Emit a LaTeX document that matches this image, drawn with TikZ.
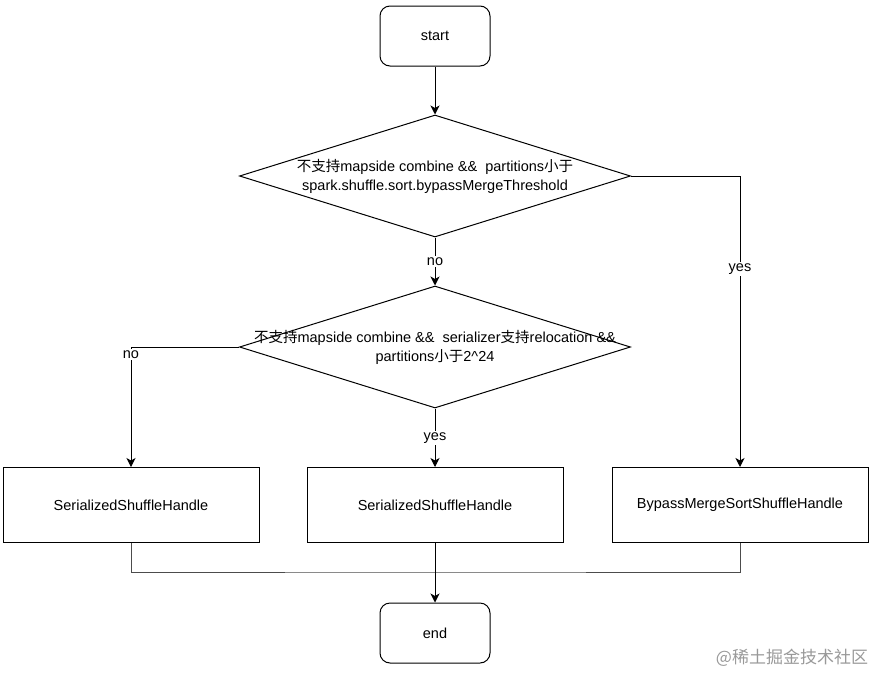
\documentclass[tikz,border=0pt]{standalone}
\usepackage{fontspec}
\setmainfont{Liberation Sans}
\newfontfamily\cjk{Noto Sans CJK SC}
\newcommand{\zh}[1]{{\cjk #1}}
\usetikzlibrary{shapes.geometric,arrows.meta}
\begin{document}
\begin{tikzpicture}[x=1pt,y=-1pt,
		font=\fontsize{14.5}{19}\selectfont,
		line width=1pt,
		terminal/.style={draw, rounded corners=10pt, minimum width=110pt, minimum height=60pt},
		handle/.style={draw, minimum width=256pt, minimum height=75pt},
		decision/.style={draw, diamond, inner sep=0pt, minimum width=391pt, minimum height=122pt},
		flow/.style={-{Stealth[length=9pt,width=9pt,inset=2.5pt]}},
		merge/.style={draw=black!70},
		edgelabel/.style={fill=white, inner sep=1.5pt}]
	\useasboundingbox (0,0) rectangle (878,675);
	\node[terminal] (start) at (435,36) {start};
	\node[decision] (d1) at (435,176) {};
	\node[align=center] (t1) at (d1.center) {\zh{不支持}mapside combine \&\&\ \ partitions\zh{小于}\\spark.shuffle.sort.bypassMergeThreshold};
	\node[decision] (d2) at (435,347) {};
	\node[align=center] (t2) at (d2.center) {\zh{不支持}mapside combine \&\&\ \ serializer\zh{支持}relocation \&\&\\partitions\zh{小于}2\^{}24};
	\node[handle] (left) at (131,505) {SerializedShuffleHandle};
	\node[handle] (mid) at (435,505) {SerializedShuffleHandle};
	\node[handle] (right) at (740,505) {BypassMergeSortShuffleHandle};
	\node[terminal] (end) at (435,633) {end};
	\coordinate (join) at (435,572);
	\draw[flow] (start) -- (d1);
	\draw[flow] (d1.south) -- node[edgelabel] {no} (d2.north);
	\draw[flow] (d1.east) -| node[edgelabel, pos=0.66] {yes} (right.north);
	\draw[flow] (d2.west) -| node[edgelabel, pos=0.53] {no} (left.north);
	\draw[flow] (d2.south) -- node[edgelabel] {yes} (mid.north);
	\draw[merge] (left.south) |- (join) -| (right.south);
	\draw[flow] (mid.south) -- (end.north);
	\node[text=black!40, font=\cjk\fontsize{17}{20}\selectfont] (mark) at (792,658) {@稀土掘金技术社区};
\end{tikzpicture}
\end{document}
